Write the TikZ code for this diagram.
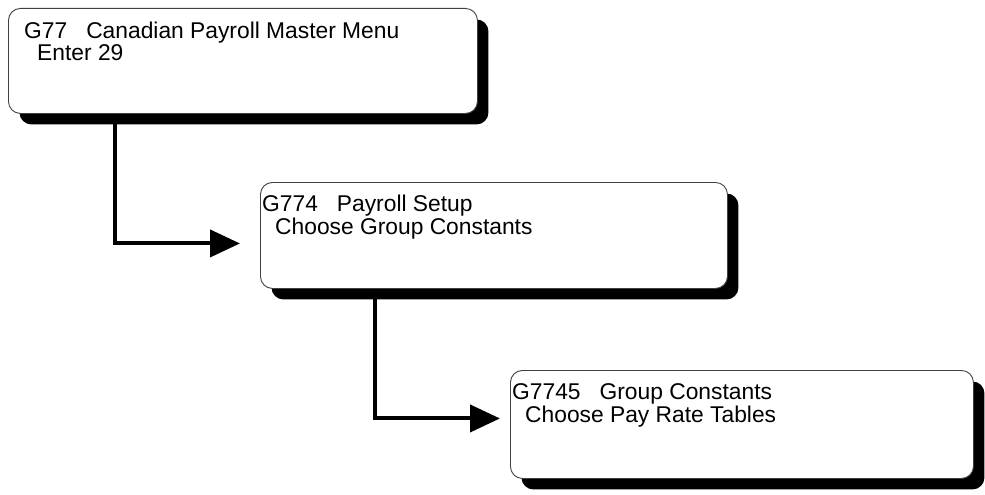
\documentclass[tikz,border=0pt]{standalone}
\usepackage{fontspec}
\setmainfont{Liberation Sans}
\usetikzlibrary{arrows.meta,shadows}
\begin{document}
\begin{tikzpicture}[x=1pt,y=-1pt,
  menubox/.style={draw=black!75, line width=0.9pt, fill=white, rounded corners=12pt,
    anchor=north west, inner sep=0pt,
    drop shadow={shadow xshift=11pt, shadow yshift=-11pt, fill=black, opacity=1}},
  lbl/.style={anchor=base west, inner sep=0pt, align=left, font=\fontsize{22.8}{19.5}\selectfont},
  conn/.style={line width=4pt, -{Triangle[length=30pt,width=27pt]}}]
\useasboundingbox (0,0) rectangle (985,495);
% boxes
\node[menubox, minimum width=469pt, minimum height=105pt] (b1) at (8,8) {};
\node[menubox, minimum width=467pt, minimum height=106pt] (b2) at (260,182) {};
\node[menubox, minimum width=463pt, minimum height=108pt] (b3) at (510,370) {};
% texts (anchor = baseline of the second line)
\node[lbl] (t1) at (24,60) {G77\ \ \ Canadian Payroll Master Menu\\\hspace*{13pt}Enter 29};
\node[lbl] (t2) at (262,234) {G774\ \ \ Payroll Setup\\\hspace*{13pt}Choose Group Constants};
\node[lbl] (t3) at (512,422) {G7745\ \ \ Group Constants\\\hspace*{13pt}Choose Pay Rate Tables};
% connectors
\draw[conn] ([xshift=107pt]b1.south west) |- ([xshift=-20pt,yshift=-8pt]b2.west);
\draw[conn] ([xshift=115pt]b2.south west) |- ([xshift=-10pt,yshift=6pt]b3.west);
\end{tikzpicture}
\end{document}
